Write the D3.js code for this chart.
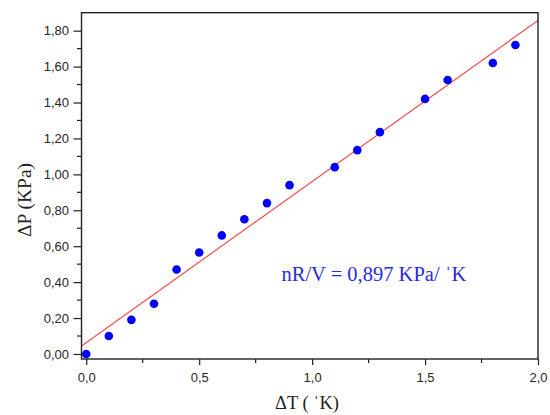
<!DOCTYPE html>
<html><head><meta charset="utf-8">
<script src="https://cdn.jsdelivr.net/npm/d3@7"></script>
<style>body{margin:0;background:#fff}svg{display:block}
.sans{font-family:'Liberation Sans','Arial',sans-serif}
.serif{font-family:'Liberation Serif','Times New Roman',serif}
</style>
</head><body>
<svg id="c" width="550" height="415"></svg>
<script>
const dT = [0.0,0.1,0.2,0.3,0.4,0.5,0.6,0.7,0.8,0.9,1.1,1.2,1.3,1.5,1.6,1.8,1.9];
const dP = [0.00,0.10,0.19,0.28,0.47,0.565,0.66,0.75,0.84,0.94,1.04,1.135,1.235,1.42,1.525,1.62,1.72];
const fitSlope = 0.897;
const fitIntercept = 0.063;
const xTicks = [0,0.5,1.0,1.5,2.0];
const yTicks = [0,0.2,0.4,0.6,0.8,1.0,1.2,1.4,1.6,1.8];
const xLabel = "\u0394T ( \u02C8K)";
const yLabel = "\u0394P (KPa)";
const note = "nR/V = 0,897 KPa/ \u02C8K";

const svg = d3.select("#c");
const L=81.5, R=538, T=12.7, B=359;
const x = d3.scaleLinear().domain([-0.021,2.0]).range([L,R]);
const y = d3.scaleLinear().domain([-0.028,1.9]).range([B,T]);
const fmt = d3.format(".2f"), fmtx = d3.format(".1f");

svg.append("line")
  .attr("x1",x(-0.021)).attr("y1",y(fitIntercept+fitSlope*-0.021))
  .attr("x2",x(2.0)).attr("y2",y(fitIntercept+fitSlope*2.0))
  .attr("stroke","#f05050").attr("stroke-width",1.2);

svg.append("g").selectAll("circle").data(dT).join("circle")
  .attr("cx",(d)=>x(d)).attr("cy",(d,i)=>y(dP[i])).attr("r",4.3).attr("fill","#0000ff");

const xAxis = d3.axisBottom(x).tickValues(xTicks).tickSize(6).tickPadding(8)
  .tickFormat(d=>fmtx(d).replace(".",","));
const gx = svg.append("g").attr("transform",`translate(0,${B})`).call(xAxis);
const yAxis = d3.axisLeft(y).tickValues(yTicks).tickSize(8).tickPadding(4.5)
  .tickFormat(d=>fmt(d).replace(".",","));
const gy = svg.append("g").attr("transform",`translate(${L},0)`).call(yAxis);
[gx,gy].forEach(g=>{
  g.attr("font-family",null).attr("font-size",null);
  g.select(".domain").remove();
  g.selectAll("line").attr("stroke","#222").attr("stroke-width",1.2);
  g.selectAll("text").attr("class","sans").style("font-size","13px").attr("fill","#262626");
});
const xMinor=[0.25,0.75,1.25,1.75];
svg.append("g").selectAll("line").data(xMinor).join("line")
  .attr("x1",d=>x(d)).attr("x2",d=>x(d)).attr("y1",B).attr("y2",B+4)
  .attr("stroke","#222").attr("stroke-width",1.2);
const yMinor=[0.1,0.3,0.5,0.7,0.9,1.1,1.3,1.5,1.7];
svg.append("g").selectAll("line").data(yMinor).join("line")
  .attr("y1",d=>y(d)).attr("y2",d=>y(d)).attr("x1",L).attr("x2",L-4.5)
  .attr("stroke","#222").attr("stroke-width",1.2);

svg.append("rect").attr("x",L).attr("y",T).attr("width",R-L).attr("height",B-T)
  .attr("fill","none").attr("stroke","#222").attr("stroke-width",1.4);

svg.append("text").attr("class","serif").attr("x",307).attr("y",409).attr("text-anchor","middle")
  .style("font-size","18.5px").attr("fill","#222").text(xLabel);
svg.append("text").attr("class","serif").attr("transform","translate(31,200) rotate(-90)").attr("text-anchor","middle")
  .style("font-size","19.5px").attr("fill","#222").text(yLabel);
svg.append("text").attr("class","serif").attr("x",281.5).attr("y",281)
  .style("font-size","20.5px").attr("fill","#2a2ae0").text(note);
</script>
</body></html>
